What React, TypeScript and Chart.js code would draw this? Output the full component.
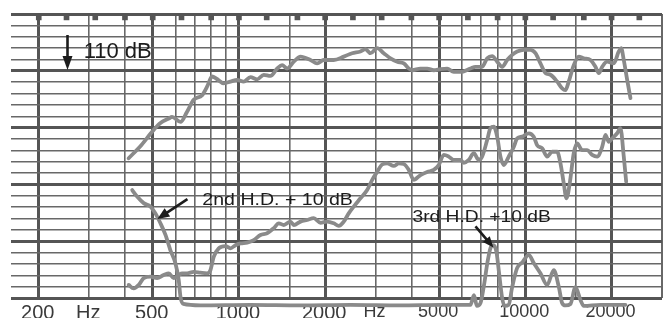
import React, { useEffect, useRef } from 'react';
import { Chart, registerables } from 'chart.js';

Chart.register(...registerables);

// ---- axis definitions ----
const gridHz = [200, 300, 400, 500, 600, 700, 800, 900, 1000, 1500, 2000, 3000, 4000, 5000, 6000, 7000, 8000, 9000, 10000, 15000, 20000, 30000];
const majorHz = [200, 500, 1000, 2000, 5000, 10000, 20000];
const labelHz = [200, 300, 500, 1000, 2000, 3000, 5000, 10000, 20000];
const labelText = ['200', 'Hz', '500', '1000', '2000', 'Hz', '5000', '10000', '20000'];
const notchHz = [200, 250, 315, 400, 500, 630, 800, 1000, 1250, 1600, 2000, 2500, 3150, 4000, 5000, 6300, 8000, 10000, 12500, 16000, 20000, 25000];
const notchDb = 119.4;

// ---- fundamental response ----
const fundamentalHz = [412, 456, 504, 532, 569, 584, 625, 659, 695, 744, 774, 806, 835, 885, 934, 986, 1039, 1097, 1158, 1221, 1288, 1360, 1415, 1474, 1554, 1640, 1777, 1875, 1978, 2143, 2323, 2484, 2656, 2766, 2879, 3037, 3203, 3381, 3569, 3763, 3917, 4025, 4302, 4541, 4788, 5053, 5333, 5623, 5934, 6433, 6697, 7067, 7356, 7659, 7972, 8299, 8640, 8993, 9363, 9872, 10418, 10846, 11290, 11754, 12234, 12912, 13443, 13804, 14174, 14757, 15364, 15993, 16878, 17572, 18043, 18544, 19304, 20358, 21190, 21604, 22062, 22675, 23281];
const fundamentalDb = [94.6, 96.9, 99.6, 100.8, 101.6, 101.9, 101.0, 102.8, 104.9, 105.7, 107.2, 109.0, 108.6, 107.8, 108.1, 108.4, 108.1, 108.9, 108.5, 109.3, 109.1, 110.4, 111.0, 110.4, 111.6, 112.5, 111.9, 111.3, 111.9, 111.9, 112.5, 113.1, 113.4, 113.8, 113.1, 114.0, 113.1, 112.2, 111.6, 111.3, 110.4, 110.1, 110.4, 110.4, 110.1, 110.3, 110.4, 109.8, 109.8, 110.4, 110.7, 110.7, 112.2, 112.6, 111.6, 110.7, 111.9, 112.8, 113.4, 113.7, 113.7, 113.1, 111.3, 109.6, 109.3, 108.1, 106.9, 106.6, 108.1, 111.0, 112.5, 112.2, 111.9, 110.7, 109.6, 110.7, 111.6, 111.3, 113.4, 114.0, 111.9, 108.4, 105.2];

// ---- harmonic curve rising to the middle band ----
const risingHz = [412, 429, 447, 465, 491, 518, 546, 569, 592, 616, 633, 659, 695, 734, 774, 795, 817, 850, 897, 934, 972, 1012, 1068, 1126, 1189, 1254, 1323, 1377, 1434, 1513, 1554, 1640, 1730, 1825, 1926, 2032, 2143, 2231, 2323, 2417, 2517, 2656, 2803, 2919, 3037, 3162, 3292, 3472, 3614, 3763, 3917, 4077, 4302, 4541, 4788, 4984, 5189, 5401, 5623, 5934, 6095, 6346, 6605, 6877, 7067, 7356, 7553, 7757, 7972, 8186, 8406, 8750, 9109, 9363, 9746, 10278, 10698, 10996, 11448, 11916, 12406, 12912, 13262, 13617, 13915, 14289, 14757, 15167, 15788, 16437, 17112, 17815, 18544, 19044, 19556, 20098, 20920, 21478, 22062, 22491];
const risingDb = [72.3, 71.7, 72.3, 73.5, 73.75, 73.5, 74.05, 74.35, 73.5, 74.05, 74.35, 74.35, 74.6, 74.45, 74.35, 74.9, 77.3, 78.75, 79.15, 78.75, 79.3, 79.6, 79.75, 80.2, 81.1, 81.4, 82.3, 83.15, 82.85, 83.45, 82.85, 83.45, 83.75, 84.05, 83.25, 83.45, 83.15, 82.7, 83.45, 84.9, 86.1, 87.55, 89.0, 90.8, 92.2, 93.5, 93.7, 93.25, 93.7, 93.6, 92.55, 90.8, 91.65, 92.2, 92.55, 93.4, 95.2, 94.9, 94.3, 94.3, 93.8, 94.3, 95.5, 94.3, 94.9, 97.8, 99.9, 100.15, 98.4, 94.9, 93.4, 94.9, 96.6, 98.1, 98.4, 99.0, 98.4, 96.9, 96.35, 94.9, 95.75, 95.75, 93.7, 90.2, 87.55, 90.2, 95.5, 97.2, 96.05, 96.05, 95.2, 94.9, 96.6, 98.7, 97.5, 98.1, 99.0, 99.9, 94.9, 90.5];

// ---- harmonic curve falling to the floor, then 3rd H.D. peaks ----
const fallingHz = [424, 441, 465, 491, 511, 532, 554, 576, 600, 616, 625, 640, 734, 1097, 1640, 2450, 3664, 5053, 6433, 6616, 6776, 6970, 7157, 7375, 7553, 7738, 7927, 8074, 8299, 8453, 8750, 8993, 9363, 9770, 10278, 10698, 11290, 11916, 12567, 13081, 13443, 13804, 14371, 14961, 15574, 15993, 18292, 22364];
const fallingDb = [89.0, 87.85, 86.7, 86.1, 84.9, 83.15, 81.1, 78.45, 76.1, 73.2, 70.2, 68.95, 68.7, 68.8, 68.7, 68.8, 68.7, 68.8, 68.8, 70.5, 68.6, 69.1, 72.0, 76.3, 78.8, 79.3, 78.1, 74.9, 70.0, 68.6, 68.8, 71.9, 75.3, 76.3, 77.6, 76.15, 74.35, 72.3, 74.9, 72.0, 69.1, 68.7, 68.95, 71.9, 69.65, 68.6, 68.8, 68.8];

// ---- annotations (data coordinates) ----
const refArrow = { hz: 252, fromDb: 116.3, toDb: 110.15 };
const refText = { text: '110 dB', hz: 287, db: 112.3 };
const hd2Text = { text: '2nd H.D. + 10 dB', hz: 745, db: 86.4 };
const hd2Arrow = { fromHz: 661, fromDb: 87.4, toHz: 519, toDb: 83.9 };
const hd3Text = { text: '3rd H.D. +10 dB', hz: 4035, db: 83.4 };
const hd3Arrow = { fromHz: 6697, fromDb: 82.6, toHz: 7738, toDb: 78.9 };

const FONT = '"Liberation Sans", Arial, Helvetica, sans-serif';
const THICK = '#555555';
const THIN = '#686868';
const CURVE = '#8a8a8a';
const INK = '#1c1c1c';

const zip = (xs: number[], ys: number[]) => xs.map((x, i) => ({ x, y: ys[i] }));

function drawArrow(ctx: CanvasRenderingContext2D, x1: number, y1: number, x2: number, y2: number, len: number, half: number, width: number) {
  const a = Math.atan2(y2 - y1, x2 - x1);
  const c = Math.cos(a), s = Math.sin(a);
  ctx.beginPath();
  ctx.moveTo(x1, y1);
  ctx.lineTo(x2 - c * len * 0.7, y2 - s * len * 0.7);
  ctx.lineWidth = width;
  ctx.stroke();
  ctx.beginPath();
  ctx.moveTo(x2, y2);
  ctx.lineTo(x2 - c * len + s * half, y2 - s * len - c * half);
  ctx.lineTo(x2 - c * len - s * half, y2 - s * len + c * half);
  ctx.closePath();
  ctx.fill();
}

function drawText(ctx: CanvasRenderingContext2D, text: string, x: number, y: number, size: number, sx: number) {
  ctx.save();
  ctx.font = `${size}px ${FONT}`;
  ctx.textAlign = 'left';
  ctx.textBaseline = 'alphabetic';
  ctx.translate(x, y);
  ctx.scale(sx, 1);
  ctx.fillText(text, 0, 0);
  ctx.restore();
}

const annotationPlugin = {
  id: 'annotations',
  afterDatasetsDraw(chart: any) {
    const { ctx } = chart;
    const xs = chart.scales.x;
    const ys = chart.scales.y;
    const px = (v: number) => xs.getPixelForValue(v);
    const py = (v: number) => ys.getPixelForValue(v);
    ctx.save();
    ctx.fillStyle = INK;
    ctx.strokeStyle = INK;
    ctx.lineCap = 'butt';
    drawArrow(ctx, px(refArrow.hz), py(refArrow.fromDb), px(refArrow.hz), py(refArrow.toDb), 14, 5, 2.6);
    drawText(ctx, refText.text, px(refText.hz), py(refText.db), 22, 1);
    drawText(ctx, hd2Text.text, px(hd2Text.hz), py(hd2Text.db), 17, 1.15);
    drawArrow(ctx, px(hd2Arrow.fromHz), py(hd2Arrow.fromDb), px(hd2Arrow.toHz), py(hd2Arrow.toDb), 12, 5, 2.6);
    drawText(ctx, hd3Text.text, px(hd3Text.hz), py(hd3Text.db), 17, 1.13);
    drawArrow(ctx, px(hd3Arrow.fromHz), py(hd3Arrow.fromDb), px(hd3Arrow.toHz), py(hd3Arrow.toDb), 11, 4.5, 2.6);
    ctx.restore();
  },
};

export default function App() {
  const canvasRef = useRef<HTMLCanvasElement | null>(null);

  useEffect(() => {
    const canvas = canvasRef.current;
    if (!canvas) return;
    const curve = (label: string, xs: number[], ys: number[]) => ({
      label,
      data: zip(xs, ys),
      borderColor: CURVE,
      borderWidth: 3.8,
      pointRadius: 0,
      cubicInterpolationMode: 'monotone' as const,
      clip: false as any,
      borderCapStyle: 'round' as const,
      borderJoinStyle: 'round' as const,
    });
    const chart = new Chart(canvas, {
      type: 'line',
      data: {
        datasets: [
          {
            label: 'notches',
            data: notchHz.map((f) => ({ x: f, y: notchDb })),
            showLine: false,
            pointStyle: 'rect',
            pointRadius: 4,
            pointBackgroundColor: THICK,
            pointBorderWidth: 0,
            clip: false as any,
          } as any,
          curve('Response', fundamentalHz, fundamentalDb),
          curve('Harmonic (rising)', risingHz, risingDb),
          curve('Harmonic (falling)', fallingHz, fallingDb),
        ],
      },
      options: {
        responsive: false,
        animation: false,
        events: [],
        layout: { padding: { left: 11, right: 5, top: 14, bottom: 0 } },
        plugins: { legend: { display: false }, tooltip: { enabled: false } },
        scales: {
          x: {
            type: 'logarithmic',
            min: 160,
            max: 30000,
            afterBuildTicks: (s: any) => {
              s.ticks = gridHz.map((v) => ({ value: v }));
            },
            afterFit: (s: any) => {
              s.height = 20;
            },
            border: { display: false },
            grid: {
              drawTicks: false,
              color: (c: any) => (majorHz.includes(c.tick?.value) ? THICK : THIN),
              lineWidth: (c: any) => (majorHz.includes(c.tick?.value) ? 3 : c.tick?.value === 30000 ? 2 : 1.6),
            },
            ticks: {
              autoSkip: false,
              maxRotation: 0,
              minRotation: 0,
              padding: 3,
              labelOffset: -1,
              color: '#3a3a3a',
              font: (c: any) => ({ family: FONT, size: c.tick && c.tick.value > 2500 ? 18 : 20 }),
              callback: (v: any) => {
                const i = labelHz.indexOf(Number(v));
                return i >= 0 ? labelText[i] : '';
              },
            },
          },
          y: {
            type: 'linear',
            min: 70,
            max: 120,
            afterFit: (s: any) => {
              s.width = 0;
            },
            border: { display: false },
            grid: {
              drawTicks: false,
              color: (c: any) => (c.tick && c.tick.value % 10 === 0 ? THICK : THIN),
              lineWidth: (c: any) => (c.tick && c.tick.value % 10 === 0 ? 3 : 1.4),
            },
            ticks: { display: false, stepSize: 2 },
          },
        },
      } as any,
      plugins: [annotationPlugin],
    });
    return () => chart.destroy();
  }, []);

  return (
    <div style={{ position: 'absolute', left: 0, top: 0, width: 667, height: 318, background: '#fff' }}>
      <canvas ref={canvasRef} width={667} height={318} style={{ display: 'block' }} />
    </div>
  );
}
